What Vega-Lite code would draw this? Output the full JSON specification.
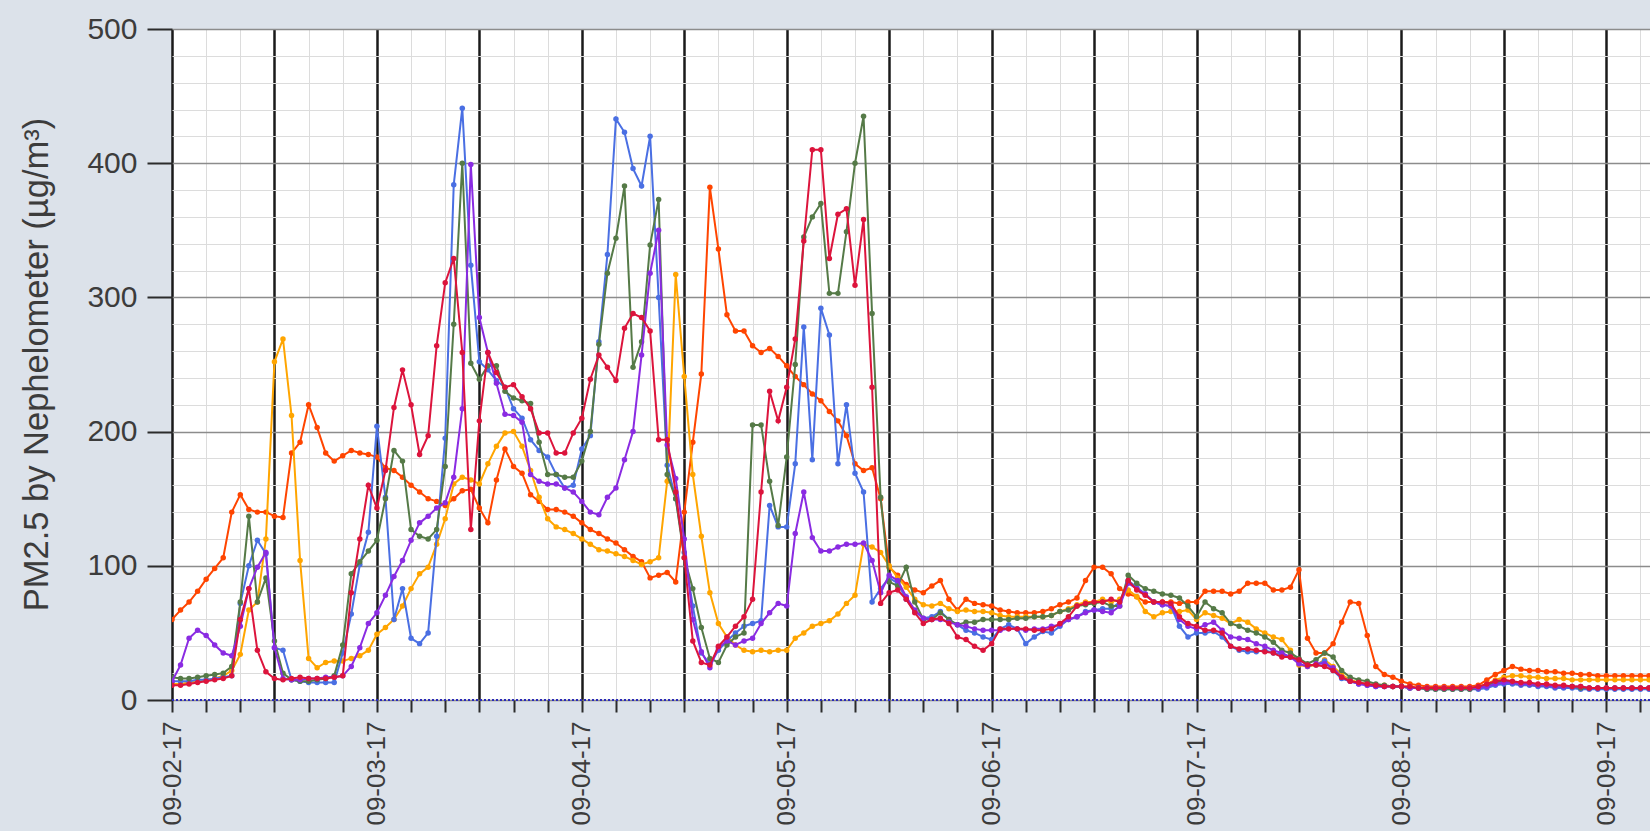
{
"$schema":"https://vega.github.io/schema/vega-lite/v6.json",
"width":1478,"height":671,
"autosize":{"type":"none"},
"padding":{"left":172,"top":29,"right":0,"bottom":131},
"background":"#DCE2EA",
"config":{"view":{"fill":"white","stroke":null}},
"resolve":{"axis":{"x":"independent","y":"independent"}},
"datasets":{
"or":[{"t":"17090200","v":60},{"t":"17090201","v":67},{"t":"17090202","v":73},{"t":"17090203","v":81},{"t":"17090204","v":90},{"t":"17090205","v":98},{"t":"17090206","v":106},{"t":"17090207","v":140},{"t":"17090208","v":153},{"t":"17090209","v":142},{"t":"17090210","v":140},{"t":"17090211","v":140},{"t":"17090212","v":137},{"t":"17090213","v":136},{"t":"17090214","v":184},{"t":"17090215","v":192},{"t":"17090216","v":220},{"t":"17090217","v":203},{"t":"17090218","v":184},{"t":"17090219","v":178},{"t":"17090220","v":182},{"t":"17090221","v":186},{"t":"17090222","v":184},{"t":"17090223","v":183},
{"t":"17090300","v":181},{"t":"17090301","v":173},{"t":"17090302","v":171},{"t":"17090303","v":166},{"t":"17090304","v":160},{"t":"17090305","v":155},{"t":"17090306","v":150},{"t":"17090307","v":148},{"t":"17090308","v":145},{"t":"17090309","v":150},{"t":"17090310","v":156},{"t":"17090311","v":157},{"t":"17090312","v":143},{"t":"17090313","v":132},{"t":"17090314","v":164},{"t":"17090315","v":187},{"t":"17090316","v":174},{"t":"17090317","v":169},{"t":"17090318","v":153},{"t":"17090319","v":148},{"t":"17090320","v":142},{"t":"17090321","v":142},{"t":"17090322","v":140},{"t":"17090323","v":137},
{"t":"17090400","v":132},{"t":"17090401","v":127},{"t":"17090402","v":124},{"t":"17090403","v":120},{"t":"17090404","v":117},{"t":"17090405","v":112},{"t":"17090406","v":107},{"t":"17090407","v":103},{"t":"17090408","v":91},{"t":"17090409","v":93},{"t":"17090410","v":95},{"t":"17090411","v":88},{"t":"17090412","v":140},{"t":"17090413","v":192},{"t":"17090414","v":243},{"t":"17090415","v":382},{"t":"17090416","v":336},{"t":"17090417","v":287},{"t":"17090418","v":275},{"t":"17090419","v":275},{"t":"17090420","v":264},{"t":"17090421","v":259},{"t":"17090422","v":262},{"t":"17090423","v":256},
{"t":"17090500","v":249},{"t":"17090501","v":241},{"t":"17090502","v":235},{"t":"17090503","v":228},{"t":"17090504","v":223},{"t":"17090505","v":215},{"t":"17090506","v":208},{"t":"17090507","v":197},{"t":"17090508","v":176},{"t":"17090509","v":171},{"t":"17090510","v":173},{"t":"17090511","v":150},{"t":"17090512","v":99},{"t":"17090513","v":93},{"t":"17090514","v":86},{"t":"17090515","v":82},{"t":"17090516","v":80},{"t":"17090517","v":85},{"t":"17090518","v":89},{"t":"17090519","v":75},{"t":"17090520","v":67},{"t":"17090521","v":75},{"t":"17090522","v":72},{"t":"17090523","v":71},
{"t":"17090600","v":70},{"t":"17090601","v":67},{"t":"17090602","v":66},{"t":"17090603","v":65},{"t":"17090604","v":65},{"t":"17090605","v":65},{"t":"17090606","v":66},{"t":"17090607","v":68},{"t":"17090608","v":71},{"t":"17090609","v":73},{"t":"17090610","v":76},{"t":"17090611","v":89},{"t":"17090612","v":99},{"t":"17090613","v":99},{"t":"17090614","v":94},{"t":"17090615","v":83},{"t":"17090616","v":79},{"t":"17090617","v":77},{"t":"17090618","v":73},{"t":"17090619","v":73},{"t":"17090620","v":73},{"t":"17090621","v":73},{"t":"17090622","v":72},{"t":"17090623","v":73},
{"t":"17090700","v":73},{"t":"17090701","v":81},{"t":"17090702","v":81},{"t":"17090703","v":81},{"t":"17090704","v":79},{"t":"17090705","v":81},{"t":"17090706","v":87},{"t":"17090707","v":87},{"t":"17090708","v":87},{"t":"17090709","v":82},{"t":"17090710","v":82},{"t":"17090711","v":84},{"t":"17090712","v":97},{"t":"17090713","v":46},{"t":"17090714","v":35},{"t":"17090715","v":35},{"t":"17090716","v":42},{"t":"17090717","v":58},{"t":"17090718","v":73},{"t":"17090719","v":72},{"t":"17090720","v":48},{"t":"17090721","v":25},{"t":"17090722","v":19},{"t":"17090723","v":17},
{"t":"17090800","v":14},{"t":"17090801","v":12},{"t":"17090802","v":11},{"t":"17090803","v":10},{"t":"17090804","v":10},{"t":"17090805","v":10},{"t":"17090806","v":10},{"t":"17090807","v":10},{"t":"17090808","v":10},{"t":"17090809","v":11},{"t":"17090810","v":15},{"t":"17090811","v":19},{"t":"17090812","v":22},{"t":"17090813","v":25},{"t":"17090814","v":23},{"t":"17090815","v":22},{"t":"17090816","v":22},{"t":"17090817","v":21},{"t":"17090818","v":21},{"t":"17090819","v":20},{"t":"17090820","v":20},{"t":"17090821","v":19},{"t":"17090822","v":19},{"t":"17090823","v":18},
{"t":"17090900","v":18},{"t":"17090901","v":18},{"t":"17090902","v":18},{"t":"17090903","v":18},{"t":"17090904","v":18},{"t":"17090905","v":18}],
"og":[{"t":"17090200","v":12},{"t":"17090201","v":12},{"t":"17090202","v":13},{"t":"17090203","v":14},{"t":"17090204","v":15},{"t":"17090205","v":16},{"t":"17090206","v":18},{"t":"17090207","v":22},{"t":"17090208","v":34},{"t":"17090209","v":67},{"t":"17090210","v":73},{"t":"17090211","v":120},{"t":"17090212","v":252},{"t":"17090213","v":269},{"t":"17090214","v":212},{"t":"17090215","v":104},{"t":"17090216","v":31},{"t":"17090217","v":24},{"t":"17090218","v":28},{"t":"17090219","v":29},{"t":"17090220","v":29},{"t":"17090221","v":31},{"t":"17090222","v":33},{"t":"17090223","v":37},
{"t":"17090300","v":49},{"t":"17090301","v":54},{"t":"17090302","v":60},{"t":"17090303","v":70},{"t":"17090304","v":83},{"t":"17090305","v":94},{"t":"17090306","v":99},{"t":"17090307","v":116},{"t":"17090308","v":135},{"t":"17090309","v":161},{"t":"17090310","v":166},{"t":"17090311","v":164},{"t":"17090312","v":161},{"t":"17090313","v":176},{"t":"17090314","v":189},{"t":"17090315","v":199},{"t":"17090316","v":200},{"t":"17090317","v":189},{"t":"17090318","v":171},{"t":"17090319","v":151},{"t":"17090320","v":135},{"t":"17090321","v":129},{"t":"17090322","v":127},{"t":"17090323","v":124},
{"t":"17090400","v":120},{"t":"17090401","v":116},{"t":"17090402","v":112},{"t":"17090403","v":111},{"t":"17090404","v":109},{"t":"17090405","v":107},{"t":"17090406","v":104},{"t":"17090407","v":101},{"t":"17090408","v":103},{"t":"17090409","v":106},{"t":"17090410","v":163},{"t":"17090411","v":317},{"t":"17090412","v":241},{"t":"17090413","v":168},{"t":"17090414","v":122},{"t":"17090415","v":80},{"t":"17090416","v":57},{"t":"17090417","v":47},{"t":"17090418","v":41},{"t":"17090419","v":37},{"t":"17090420","v":36},{"t":"17090421","v":37},{"t":"17090422","v":36},{"t":"17090423","v":37},
{"t":"17090500","v":37},{"t":"17090501","v":46},{"t":"17090502","v":50},{"t":"17090503","v":55},{"t":"17090504","v":57},{"t":"17090505","v":59},{"t":"17090506","v":64},{"t":"17090507","v":72},{"t":"17090508","v":78},{"t":"17090509","v":116},{"t":"17090510","v":114},{"t":"17090511","v":110},{"t":"17090512","v":100},{"t":"17090513","v":91},{"t":"17090514","v":84},{"t":"17090515","v":75},{"t":"17090516","v":71},{"t":"17090517","v":70},{"t":"17090518","v":72},{"t":"17090519","v":68},{"t":"17090520","v":66},{"t":"17090521","v":67},{"t":"17090522","v":66},{"t":"17090523","v":66},
{"t":"17090600","v":65},{"t":"17090601","v":63},{"t":"17090602","v":62},{"t":"17090603","v":62},{"t":"17090604","v":62},{"t":"17090605","v":62},{"t":"17090606","v":62},{"t":"17090607","v":63},{"t":"17090608","v":66},{"t":"17090609","v":68},{"t":"17090610","v":71},{"t":"17090611","v":73},{"t":"17090612","v":73},{"t":"17090613","v":75},{"t":"17090614","v":73},{"t":"17090615","v":75},{"t":"17090616","v":82},{"t":"17090617","v":77},{"t":"17090618","v":66},{"t":"17090619","v":62},{"t":"17090620","v":65},{"t":"17090621","v":66},{"t":"17090622","v":66},{"t":"17090623","v":67},
{"t":"17090700","v":60},{"t":"17090701","v":65},{"t":"17090702","v":63},{"t":"17090703","v":61},{"t":"17090704","v":57},{"t":"17090705","v":60},{"t":"17090706","v":58},{"t":"17090707","v":53},{"t":"17090708","v":50},{"t":"17090709","v":47},{"t":"17090710","v":45},{"t":"17090711","v":37},{"t":"17090712","v":26},{"t":"17090713","v":25},{"t":"17090714","v":26},{"t":"17090715","v":30},{"t":"17090716","v":25},{"t":"17090717","v":19},{"t":"17090718","v":15},{"t":"17090719","v":13},{"t":"17090720","v":12},{"t":"17090721","v":11},{"t":"17090722","v":11},{"t":"17090723","v":10},
{"t":"17090800","v":10},{"t":"17090801","v":10},{"t":"17090802","v":9},{"t":"17090803","v":9},{"t":"17090804","v":9},{"t":"17090805","v":9},{"t":"17090806","v":9},{"t":"17090807","v":9},{"t":"17090808","v":9},{"t":"17090809","v":10},{"t":"17090810","v":12},{"t":"17090811","v":15},{"t":"17090812","v":17},{"t":"17090813","v":18},{"t":"17090814","v":18},{"t":"17090815","v":17},{"t":"17090816","v":17},{"t":"17090817","v":16},{"t":"17090818","v":16},{"t":"17090819","v":16},{"t":"17090820","v":15},{"t":"17090821","v":15},{"t":"17090822","v":15},{"t":"17090823","v":15},
{"t":"17090900","v":15},{"t":"17090901","v":15},{"t":"17090902","v":15},{"t":"17090903","v":15},{"t":"17090904","v":15},{"t":"17090905","v":15}],
"bl":[{"t":"17090200","v":14},{"t":"17090201","v":14},{"t":"17090202","v":14},{"t":"17090203","v":15},{"t":"17090204","v":15},{"t":"17090205","v":16},{"t":"17090206","v":17},{"t":"17090207","v":18},{"t":"17090208","v":72},{"t":"17090209","v":100},{"t":"17090210","v":119},{"t":"17090211","v":109},{"t":"17090212","v":39},{"t":"17090213","v":37},{"t":"17090214","v":15},{"t":"17090215","v":14},{"t":"17090216","v":13},{"t":"17090217","v":13},{"t":"17090218","v":13},{"t":"17090219","v":13},{"t":"17090220","v":35},{"t":"17090221","v":64},{"t":"17090222","v":101},{"t":"17090223","v":125},
{"t":"17090300","v":204},{"t":"17090301","v":151},{"t":"17090302","v":60},{"t":"17090303","v":83},{"t":"17090304","v":46},{"t":"17090305","v":42},{"t":"17090306","v":50},{"t":"17090307","v":122},{"t":"17090308","v":195},{"t":"17090309","v":384},{"t":"17090310","v":441},{"t":"17090311","v":324},{"t":"17090312","v":252},{"t":"17090313","v":246},{"t":"17090314","v":238},{"t":"17090315","v":233},{"t":"17090316","v":217},{"t":"17090317","v":210},{"t":"17090318","v":194},{"t":"17090319","v":186},{"t":"17090320","v":181},{"t":"17090321","v":168},{"t":"17090322","v":158},{"t":"17090323","v":160},
{"t":"17090400","v":187},{"t":"17090401","v":197},{"t":"17090402","v":267},{"t":"17090403","v":332},{"t":"17090404","v":433},{"t":"17090405","v":423},{"t":"17090406","v":396},{"t":"17090407","v":383},{"t":"17090408","v":420},{"t":"17090409","v":300},{"t":"17090410","v":175},{"t":"17090411","v":150},{"t":"17090412","v":110},{"t":"17090413","v":70},{"t":"17090414","v":35},{"t":"17090415","v":27},{"t":"17090416","v":37},{"t":"17090417","v":44},{"t":"17090418","v":50},{"t":"17090419","v":55},{"t":"17090420","v":57},{"t":"17090421","v":59},{"t":"17090422","v":145},{"t":"17090423","v":129},
{"t":"17090500","v":129},{"t":"17090501","v":176},{"t":"17090502","v":278},{"t":"17090503","v":179},{"t":"17090504","v":292},{"t":"17090505","v":272},{"t":"17090506","v":176},{"t":"17090507","v":220},{"t":"17090508","v":169},{"t":"17090509","v":155},{"t":"17090510","v":73},{"t":"17090511","v":83},{"t":"17090512","v":91},{"t":"17090513","v":87},{"t":"17090514","v":75},{"t":"17090515","v":66},{"t":"17090516","v":61},{"t":"17090517","v":62},{"t":"17090518","v":66},{"t":"17090519","v":60},{"t":"17090520","v":56},{"t":"17090521","v":52},{"t":"17090522","v":50},{"t":"17090523","v":47},
{"t":"17090600","v":45},{"t":"17090601","v":53},{"t":"17090602","v":56},{"t":"17090603","v":53},{"t":"17090604","v":42},{"t":"17090605","v":47},{"t":"17090606","v":51},{"t":"17090607","v":50},{"t":"17090608","v":55},{"t":"17090609","v":60},{"t":"17090610","v":62},{"t":"17090611","v":66},{"t":"17090612","v":67},{"t":"17090613","v":68},{"t":"17090614","v":68},{"t":"17090615","v":73},{"t":"17090616","v":89},{"t":"17090617","v":84},{"t":"17090618","v":79},{"t":"17090619","v":73},{"t":"17090620","v":71},{"t":"17090621","v":70},{"t":"17090622","v":55},{"t":"17090623","v":47},
{"t":"17090700","v":50},{"t":"17090701","v":50},{"t":"17090702","v":51},{"t":"17090703","v":47},{"t":"17090704","v":40},{"t":"17090705","v":37},{"t":"17090706","v":36},{"t":"17090707","v":36},{"t":"17090708","v":37},{"t":"17090709","v":35},{"t":"17090710","v":34},{"t":"17090711","v":32},{"t":"17090712","v":30},{"t":"17090713","v":26},{"t":"17090714","v":26},{"t":"17090715","v":29},{"t":"17090716","v":22},{"t":"17090717","v":16},{"t":"17090718","v":14},{"t":"17090719","v":12},{"t":"17090720","v":11},{"t":"17090721","v":10},{"t":"17090722","v":10},{"t":"17090723","v":10},
{"t":"17090800","v":10},{"t":"17090801","v":9},{"t":"17090802","v":9},{"t":"17090803","v":8},{"t":"17090804","v":8},{"t":"17090805","v":8},{"t":"17090806","v":8},{"t":"17090807","v":8},{"t":"17090808","v":8},{"t":"17090809","v":8},{"t":"17090810","v":9},{"t":"17090811","v":11},{"t":"17090812","v":12},{"t":"17090813","v":12},{"t":"17090814","v":11},{"t":"17090815","v":11},{"t":"17090816","v":10},{"t":"17090817","v":10},{"t":"17090818","v":9},{"t":"17090819","v":9},{"t":"17090820","v":9},{"t":"17090821","v":8},{"t":"17090822","v":8},{"t":"17090823","v":8},
{"t":"17090900","v":8},{"t":"17090901","v":8},{"t":"17090902","v":8},{"t":"17090903","v":8},{"t":"17090904","v":8},{"t":"17090905","v":8}],
"gr":[{"t":"17090200","v":17},{"t":"17090201","v":16},{"t":"17090202","v":16},{"t":"17090203","v":17},{"t":"17090204","v":18},{"t":"17090205","v":19},{"t":"17090206","v":20},{"t":"17090207","v":25},{"t":"17090208","v":73},{"t":"17090209","v":137},{"t":"17090210","v":73},{"t":"17090211","v":91},{"t":"17090212","v":44},{"t":"17090213","v":20},{"t":"17090214","v":15},{"t":"17090215","v":14},{"t":"17090216","v":14},{"t":"17090217","v":15},{"t":"17090218","v":16},{"t":"17090219","v":18},{"t":"17090220","v":41},{"t":"17090221","v":94},{"t":"17090222","v":103},{"t":"17090223","v":111},
{"t":"17090300","v":119},{"t":"17090301","v":150},{"t":"17090302","v":186},{"t":"17090303","v":178},{"t":"17090304","v":127},{"t":"17090305","v":122},{"t":"17090306","v":120},{"t":"17090307","v":127},{"t":"17090308","v":174},{"t":"17090309","v":280},{"t":"17090310","v":400},{"t":"17090311","v":251},{"t":"17090312","v":239},{"t":"17090313","v":249},{"t":"17090314","v":249},{"t":"17090315","v":230},{"t":"17090316","v":225},{"t":"17090317","v":223},{"t":"17090318","v":221},{"t":"17090319","v":192},{"t":"17090320","v":168},{"t":"17090321","v":168},{"t":"17090322","v":166},{"t":"17090323","v":166},
{"t":"17090400","v":178},{"t":"17090401","v":200},{"t":"17090402","v":265},{"t":"17090403","v":318},{"t":"17090404","v":344},{"t":"17090405","v":383},{"t":"17090406","v":248},{"t":"17090407","v":267},{"t":"17090408","v":339},{"t":"17090409","v":373},{"t":"17090410","v":168},{"t":"17090411","v":150},{"t":"17090412","v":106},{"t":"17090413","v":83},{"t":"17090414","v":54},{"t":"17090415","v":31},{"t":"17090416","v":28},{"t":"17090417","v":41},{"t":"17090418","v":47},{"t":"17090419","v":50},{"t":"17090420","v":205},{"t":"17090421","v":205},{"t":"17090422","v":163},{"t":"17090423","v":130},
{"t":"17090500","v":181},{"t":"17090501","v":250},{"t":"17090502","v":345},{"t":"17090503","v":360},{"t":"17090504","v":370},{"t":"17090505","v":303},{"t":"17090506","v":303},{"t":"17090507","v":349},{"t":"17090508","v":400},{"t":"17090509","v":435},{"t":"17090510","v":288},{"t":"17090511","v":151},{"t":"17090512","v":88},{"t":"17090513","v":85},{"t":"17090514","v":99},{"t":"17090515","v":73},{"t":"17090516","v":60},{"t":"17090517","v":60},{"t":"17090518","v":65},{"t":"17090519","v":60},{"t":"17090520","v":56},{"t":"17090521","v":58},{"t":"17090522","v":58},{"t":"17090523","v":60},
{"t":"17090600","v":60},{"t":"17090601","v":60},{"t":"17090602","v":60},{"t":"17090603","v":61},{"t":"17090604","v":61},{"t":"17090605","v":62},{"t":"17090606","v":62},{"t":"17090607","v":63},{"t":"17090608","v":66},{"t":"17090609","v":67},{"t":"17090610","v":70},{"t":"17090611","v":71},{"t":"17090612","v":72},{"t":"17090613","v":73},{"t":"17090614","v":70},{"t":"17090615","v":70},{"t":"17090616","v":93},{"t":"17090617","v":87},{"t":"17090618","v":83},{"t":"17090619","v":81},{"t":"17090620","v":79},{"t":"17090621","v":78},{"t":"17090622","v":76},{"t":"17090623","v":70},
{"t":"17090700","v":62},{"t":"17090701","v":73},{"t":"17090702","v":68},{"t":"17090703","v":65},{"t":"17090704","v":57},{"t":"17090705","v":55},{"t":"17090706","v":52},{"t":"17090707","v":50},{"t":"17090708","v":47},{"t":"17090709","v":43},{"t":"17090710","v":37},{"t":"17090711","v":35},{"t":"17090712","v":31},{"t":"17090713","v":27},{"t":"17090714","v":30},{"t":"17090715","v":35},{"t":"17090716","v":32},{"t":"17090717","v":22},{"t":"17090718","v":17},{"t":"17090719","v":15},{"t":"17090720","v":14},{"t":"17090721","v":12},{"t":"17090722","v":11},{"t":"17090723","v":10},
{"t":"17090800","v":10},{"t":"17090801","v":9},{"t":"17090802","v":9},{"t":"17090803","v":8},{"t":"17090804","v":8},{"t":"17090805","v":8},{"t":"17090806","v":8},{"t":"17090807","v":8},{"t":"17090808","v":8},{"t":"17090809","v":9},{"t":"17090810","v":11},{"t":"17090811","v":13},{"t":"17090812","v":14},{"t":"17090813","v":13},{"t":"17090814","v":12},{"t":"17090815","v":12},{"t":"17090816","v":11},{"t":"17090817","v":11},{"t":"17090818","v":10},{"t":"17090819","v":10},{"t":"17090820","v":10},{"t":"17090821","v":9},{"t":"17090822","v":9},{"t":"17090823","v":9},
{"t":"17090900","v":9},{"t":"17090901","v":9},{"t":"17090902","v":9},{"t":"17090903","v":9},{"t":"17090904","v":9},{"t":"17090905","v":9}],
"pu":[{"t":"17090200","v":14},{"t":"17090201","v":26},{"t":"17090202","v":46},{"t":"17090203","v":52},{"t":"17090204","v":48},{"t":"17090205","v":41},{"t":"17090206","v":35},{"t":"17090207","v":33},{"t":"17090208","v":55},{"t":"17090209","v":83},{"t":"17090210","v":99},{"t":"17090211","v":110},{"t":"17090212","v":39},{"t":"17090213","v":16},{"t":"17090214","v":15},{"t":"17090215","v":15},{"t":"17090216","v":16},{"t":"17090217","v":16},{"t":"17090218","v":17},{"t":"17090219","v":17},{"t":"17090220","v":18},{"t":"17090221","v":25},{"t":"17090222","v":39},{"t":"17090223","v":57},
{"t":"17090300","v":65},{"t":"17090301","v":78},{"t":"17090302","v":92},{"t":"17090303","v":104},{"t":"17090304","v":119},{"t":"17090305","v":132},{"t":"17090306","v":137},{"t":"17090307","v":143},{"t":"17090308","v":147},{"t":"17090309","v":166},{"t":"17090310","v":217},{"t":"17090311","v":399},{"t":"17090312","v":285},{"t":"17090313","v":259},{"t":"17090314","v":236},{"t":"17090315","v":213},{"t":"17090316","v":212},{"t":"17090317","v":207},{"t":"17090318","v":168},{"t":"17090319","v":163},{"t":"17090320","v":161},{"t":"17090321","v":161},{"t":"17090322","v":158},{"t":"17090323","v":155},
{"t":"17090400","v":148},{"t":"17090401","v":140},{"t":"17090402","v":138},{"t":"17090403","v":151},{"t":"17090404","v":158},{"t":"17090405","v":179},{"t":"17090406","v":200},{"t":"17090407","v":257},{"t":"17090408","v":318},{"t":"17090409","v":350},{"t":"17090410","v":190},{"t":"17090411","v":165},{"t":"17090412","v":120},{"t":"17090413","v":60},{"t":"17090414","v":36},{"t":"17090415","v":24},{"t":"17090416","v":39},{"t":"17090417","v":44},{"t":"17090418","v":41},{"t":"17090419","v":44},{"t":"17090420","v":46},{"t":"17090421","v":57},{"t":"17090422","v":65},{"t":"17090423","v":72},
{"t":"17090500","v":70},{"t":"17090501","v":124},{"t":"17090502","v":155},{"t":"17090503","v":121},{"t":"17090504","v":111},{"t":"17090505","v":111},{"t":"17090506","v":114},{"t":"17090507","v":116},{"t":"17090508","v":116},{"t":"17090509","v":117},{"t":"17090510","v":104},{"t":"17090511","v":80},{"t":"17090512","v":93},{"t":"17090513","v":89},{"t":"17090514","v":77},{"t":"17090515","v":67},{"t":"17090516","v":61},{"t":"17090517","v":60},{"t":"17090518","v":60},{"t":"17090519","v":58},{"t":"17090520","v":56},{"t":"17090521","v":55},{"t":"17090522","v":53},{"t":"17090523","v":52},
{"t":"17090600","v":52},{"t":"17090601","v":52},{"t":"17090602","v":53},{"t":"17090603","v":53},{"t":"17090604","v":52},{"t":"17090605","v":53},{"t":"17090606","v":53},{"t":"17090607","v":55},{"t":"17090608","v":56},{"t":"17090609","v":60},{"t":"17090610","v":62},{"t":"17090611","v":65},{"t":"17090612","v":67},{"t":"17090613","v":66},{"t":"17090614","v":65},{"t":"17090615","v":70},{"t":"17090616","v":87},{"t":"17090617","v":83},{"t":"17090618","v":79},{"t":"17090619","v":73},{"t":"17090620","v":71},{"t":"17090621","v":70},{"t":"17090622","v":60},{"t":"17090623","v":55},
{"t":"17090700","v":53},{"t":"17090701","v":56},{"t":"17090702","v":58},{"t":"17090703","v":52},{"t":"17090704","v":47},{"t":"17090705","v":46},{"t":"17090706","v":45},{"t":"17090707","v":42},{"t":"17090708","v":40},{"t":"17090709","v":37},{"t":"17090710","v":35},{"t":"17090711","v":32},{"t":"17090712","v":27},{"t":"17090713","v":25},{"t":"17090714","v":27},{"t":"17090715","v":27},{"t":"17090716","v":24},{"t":"17090717","v":17},{"t":"17090718","v":14},{"t":"17090719","v":12},{"t":"17090720","v":11},{"t":"17090721","v":10},{"t":"17090722","v":10},{"t":"17090723","v":10},
{"t":"17090800","v":10},{"t":"17090801","v":9},{"t":"17090802","v":9},{"t":"17090803","v":9},{"t":"17090804","v":9},{"t":"17090805","v":9},{"t":"17090806","v":9},{"t":"17090807","v":9},{"t":"17090808","v":9},{"t":"17090809","v":9},{"t":"17090810","v":10},{"t":"17090811","v":12},{"t":"17090812","v":13},{"t":"17090813","v":13},{"t":"17090814","v":12},{"t":"17090815","v":12},{"t":"17090816","v":11},{"t":"17090817","v":11},{"t":"17090818","v":10},{"t":"17090819","v":10},{"t":"17090820","v":10},{"t":"17090821","v":10},{"t":"17090822","v":9},{"t":"17090823","v":9},
{"t":"17090900","v":9},{"t":"17090901","v":9},{"t":"17090902","v":9},{"t":"17090903","v":9},{"t":"17090904","v":9},{"t":"17090905","v":9}],
"cr":[{"t":"17090200","v":11},{"t":"17090201","v":11},{"t":"17090202","v":12},{"t":"17090203","v":13},{"t":"17090204","v":14},{"t":"17090205","v":15},{"t":"17090206","v":16},{"t":"17090207","v":18},{"t":"17090208","v":60},{"t":"17090209","v":83},{"t":"17090210","v":37},{"t":"17090211","v":21},{"t":"17090212","v":16},{"t":"17090213","v":15},{"t":"17090214","v":16},{"t":"17090215","v":17},{"t":"17090216","v":16},{"t":"17090217","v":16},{"t":"17090218","v":16},{"t":"17090219","v":17},{"t":"17090220","v":18},{"t":"17090221","v":80},{"t":"17090222","v":120},{"t":"17090223","v":160},
{"t":"17090300","v":143},{"t":"17090301","v":171},{"t":"17090302","v":218},{"t":"17090303","v":246},{"t":"17090304","v":220},{"t":"17090305","v":183},{"t":"17090306","v":197},{"t":"17090307","v":264},{"t":"17090308","v":311},{"t":"17090309","v":329},{"t":"17090310","v":259},{"t":"17090311","v":127},{"t":"17090312","v":208},{"t":"17090313","v":259},{"t":"17090314","v":244},{"t":"17090315","v":233},{"t":"17090316","v":235},{"t":"17090317","v":226},{"t":"17090318","v":217},{"t":"17090319","v":199},{"t":"17090320","v":199},{"t":"17090321","v":184},{"t":"17090322","v":184},{"t":"17090323","v":199},
{"t":"17090400","v":210},{"t":"17090401","v":239},{"t":"17090402","v":257},{"t":"17090403","v":248},{"t":"17090404","v":238},{"t":"17090405","v":277},{"t":"17090406","v":288},{"t":"17090407","v":285},{"t":"17090408","v":275},{"t":"17090409","v":194},{"t":"17090410","v":194},{"t":"17090411","v":155},{"t":"17090412","v":106},{"t":"17090413","v":44},{"t":"17090414","v":28},{"t":"17090415","v":26},{"t":"17090416","v":40},{"t":"17090417","v":47},{"t":"17090418","v":55},{"t":"17090419","v":62},{"t":"17090420","v":75},{"t":"17090421","v":155},{"t":"17090422","v":230},{"t":"17090423","v":208},
{"t":"17090500","v":233},{"t":"17090501","v":269},{"t":"17090502","v":342},{"t":"17090503","v":410},{"t":"17090504","v":410},{"t":"17090505","v":329},{"t":"17090506","v":362},{"t":"17090507","v":366},{"t":"17090508","v":309},{"t":"17090509","v":358},{"t":"17090510","v":233},{"t":"17090511","v":72},{"t":"17090512","v":80},{"t":"17090513","v":82},{"t":"17090514","v":75},{"t":"17090515","v":65},{"t":"17090516","v":57},{"t":"17090517","v":60},{"t":"17090518","v":61},{"t":"17090519","v":57},{"t":"17090520","v":47},{"t":"17090521","v":45},{"t":"17090522","v":40},{"t":"17090523","v":37},
{"t":"17090600","v":42},{"t":"17090601","v":53},{"t":"17090602","v":53},{"t":"17090603","v":53},{"t":"17090604","v":53},{"t":"17090605","v":52},{"t":"17090606","v":52},{"t":"17090607","v":53},{"t":"17090608","v":57},{"t":"17090609","v":62},{"t":"17090610","v":70},{"t":"17090611","v":72},{"t":"17090612","v":73},{"t":"17090613","v":73},{"t":"17090614","v":75},{"t":"17090615","v":73},{"t":"17090616","v":89},{"t":"17090617","v":82},{"t":"17090618","v":78},{"t":"17090619","v":73},{"t":"17090620","v":73},{"t":"17090621","v":72},{"t":"17090622","v":62},{"t":"17090623","v":57},
{"t":"17090700","v":55},{"t":"17090701","v":52},{"t":"17090702","v":52},{"t":"17090703","v":50},{"t":"17090704","v":40},{"t":"17090705","v":38},{"t":"17090706","v":38},{"t":"17090707","v":37},{"t":"17090708","v":36},{"t":"17090709","v":35},{"t":"17090710","v":32},{"t":"17090711","v":32},{"t":"17090712","v":30},{"t":"17090713","v":26},{"t":"17090714","v":26},{"t":"17090715","v":25},{"t":"17090716","v":22},{"t":"17090717","v":17},{"t":"17090718","v":14},{"t":"17090719","v":13},{"t":"17090720","v":12},{"t":"17090721","v":11},{"t":"17090722","v":10},{"t":"17090723","v":10},
{"t":"17090800","v":10},{"t":"17090801","v":10},{"t":"17090802","v":9},{"t":"17090803","v":9},{"t":"17090804","v":9},{"t":"17090805","v":9},{"t":"17090806","v":9},{"t":"17090807","v":9},{"t":"17090808","v":9},{"t":"17090809","v":10},{"t":"17090810","v":12},{"t":"17090811","v":14},{"t":"17090812","v":15},{"t":"17090813","v":14},{"t":"17090814","v":13},{"t":"17090815","v":13},{"t":"17090816","v":12},{"t":"17090817","v":12},{"t":"17090818","v":11},{"t":"17090819","v":11},{"t":"17090820","v":10},{"t":"17090821","v":10},{"t":"17090822","v":9},{"t":"17090823","v":9},
{"t":"17090900","v":9},{"t":"17090901","v":9},{"t":"17090902","v":9},{"t":"17090903","v":9},{"t":"17090904","v":9},{"t":"17090905","v":9}]
},
"layer":[
{"data":{"name":"or","format":{"parse":{"t":"date:'%y%m%d%H'"}}},
 "mark":{"type":"line","color":"#FF4500","strokeWidth":2,"clip":true,"point":{"filled":true,"size":30,"color":"#FF4500"}},
 "encoding":{
  "x":{"field":"t","type":"temporal",
   "scale":{"domain":[{"year":2017,"month":9,"date":2,"hours":0},{"year":2017,"month":9,"date":9,"hours":5,"minutes":7}],"nice":false},
   "axis":{"orient":"bottom","title":null,"domain":false,"labels":false,"grid":true,"gridColor":"#dcdcdc","gridWidth":1,
    "tickCount":{"interval":"hours","step":4},"ticks":true,"tickColor":"#2b2b2b","tickSize":12,"tickWidth":2}},
  "y":{"field":"v","type":"quantitative","scale":{"domain":[0,500],"nice":false},
   "axis":{"orient":"left","title":null,"domain":false,"labels":false,"ticks":false,"grid":true,"gridColor":"#dcdcdc","gridWidth":1,
    "values":[20,40,60,80,120,140,160,180,220,240,260,280,320,340,360,380,420,440,460,480]}}}},
{"data":{"name":"og","format":{"parse":{"t":"date:'%y%m%d%H'"}}},
 "mark":{"type":"line","color":"#FFA500","strokeWidth":2,"clip":true,"point":{"filled":true,"size":30,"color":"#FFA500"}},
 "encoding":{
  "x":{"field":"t","type":"temporal",
   "axis":{"orient":"bottom","title":null,"domain":false,"labels":false,"ticks":false,"grid":true,"gridColor":"#1a1a1a","gridWidth":2.5,
    "tickCount":{"interval":"hours","step":12}}},
  "y":{"field":"v","type":"quantitative",
   "axis":{"orient":"left","title":"PM2.5 by Nephelometer (µg/m³)","values":[0,100,200,300,400,500],
    "domain":false,"grid":true,"gridColor":"#8c8c8c","gridWidth":1.5,
    "ticks":true,"tickColor":"#2b2b2b","tickSize":25,"tickWidth":2,
    "labelFont":"Liberation Sans","labelFontSize":30,"labelColor":"#3c3c3c","labelPadding":10,
    "labelOverlap":false,"labelBound":false,"labelFlush":false,
    "titleFont":"Liberation Sans","titleFontSize":34.5,"titleFontWeight":"normal","titleColor":"#3c3c3c",
    "titleX":-135,"titleY":335,"titleAngle":270,"titleAlign":"center","titleBaseline":"middle"}}}},
{"data":{"name":"bl","format":{"parse":{"t":"date:'%y%m%d%H'"}}},
 "mark":{"type":"line","color":"#4A6FE3","strokeWidth":2,"clip":true,"point":{"filled":true,"size":30,"color":"#4A6FE3"}},
 "encoding":{
  "x":{"field":"t","type":"temporal",
   "axis":{"orient":"bottom","title":null,"domain":false,"grid":false,"ticks":false,
    "tickCount":{"interval":"day","step":1},"format":"%m-%d-%y",
    "labelAngle":270,"labelFont":"Liberation Sans","labelFontSize":26,"labelColor":"#3c3c3c","labelPadding":21,
    "labelOverlap":false,"labelBound":false,"labelFlush":false}},
  "y":{"field":"v","type":"quantitative","axis":null}}},
{"data":{"name":"gr","format":{"parse":{"t":"date:'%y%m%d%H'"}}},
 "mark":{"type":"line","color":"#557A47","strokeWidth":2,"clip":true,"point":{"filled":true,"size":30,"color":"#557A47"}},
 "encoding":{"x":{"field":"t","type":"temporal","axis":null},"y":{"field":"v","type":"quantitative","axis":null}}},
{"data":{"name":"pu","format":{"parse":{"t":"date:'%y%m%d%H'"}}},
 "mark":{"type":"line","color":"#8A2BE2","strokeWidth":2,"clip":true,"point":{"filled":true,"size":30,"color":"#8A2BE2"}},
 "encoding":{"x":{"field":"t","type":"temporal","axis":null},"y":{"field":"v","type":"quantitative","axis":null}}},
{"data":{"name":"cr","format":{"parse":{"t":"date:'%y%m%d%H'"}}},
 "mark":{"type":"line","color":"#DC143C","strokeWidth":2,"clip":true,"point":{"filled":true,"size":30,"color":"#DC143C"}},
 "encoding":{"x":{"field":"t","type":"temporal","axis":null},"y":{"field":"v","type":"quantitative","axis":null}}},
{"data":{"values":[{"z":0}]},
 "mark":{"type":"rule","color":"#2a2ab8","strokeWidth":2,"strokeDash":[2,2]},
 "encoding":{"y":{"field":"z","type":"quantitative","axis":null}}}
]
}
